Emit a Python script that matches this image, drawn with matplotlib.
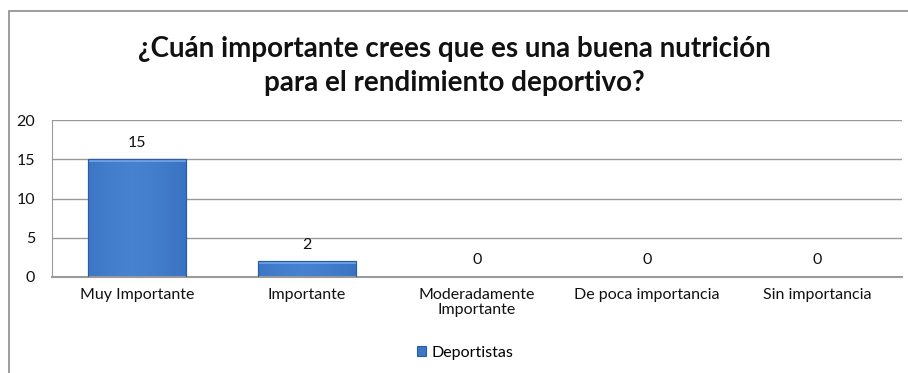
import matplotlib
matplotlib.use("Agg")
import matplotlib.pyplot as plt
import numpy as np
from matplotlib.patches import Rectangle

categories = ["Muy Importante", "Importante", "Moderadamente\nImportante",
              "De poca importancia", "Sin importancia"]
values = [15, 2, 0, 0, 0]
series_name = "Deportistas"
yticks = [0, 5, 10, 15, 20]
title = "¿Cuán importante crees que es una buena nutrición\npara el rendimiento deportivo?"

plt.rcParams["font.family"] = ["Lato", "DejaVu Sans"]

W, H = 908, 373
fig = plt.figure(figsize=(W / 100, H / 100), dpi=100)
fig.patch.set_facecolor("white")

# outer chart frame
fig.add_artist(Rectangle((9 / W, -0.05), 1.2, (H - 11) / H + 0.05,
                         transform=fig.transFigure, fill=False,
                         edgecolor="#8c8c8c", linewidth=1.2))

left, right = 52 / W, 902 / W
bottom, top = 1 - 277 / H, 1 - 120 / H
ax = fig.add_axes([left, bottom, right - left, top - bottom])
ax.set_xlim(-0.5, len(categories) - 0.5)
ax.set_ylim(0, 20)
ax.set_yticks(yticks)
ax.set_yticklabels([str(t) for t in yticks], fontsize=11.5, color="#111111")
ax.set_xticks(range(len(categories)))
ax.set_xticklabels(categories, fontsize=11.5, color="#111111", linespacing=1.05)
ax.tick_params(axis="x", length=0, pad=8)
ax.tick_params(axis="y", length=0, pad=12)
ax.grid(axis="y", color="#9a9a9a", linewidth=1)
ax.set_axisbelow(True)
for s in ["top", "right"]:
    ax.spines[s].set_visible(False)
ax.spines["left"].set_color("#9a9a9a")
ax.spines["bottom"].set_color("#9a9a9a")
ax.spines["bottom"].set_linewidth(1.5)

# horizontal shading for a bevelled look
grad = np.linspace(0, 1, 256)
shade = 1 - 0.55 * np.abs(grad - 0.45) ** 1.5 * 2
cmap = matplotlib.colors.LinearSegmentedColormap.from_list(
    "bar", ["#1f4d8c", "#3770c0", "#4682d0"])

width = 0.58
bars = ax.bar(range(len(categories)), values, width=width, color="#3b78c8",
              edgecolor="#2a5d9f", linewidth=0.8, label=series_name, zorder=2)
for b, v in zip(bars, values):
    if v <= 0:
        continue
    x0, w, h = b.get_x(), b.get_width(), b.get_height()
    img = np.tile(shade, (8, 1))
    im = ax.imshow(img, extent=(x0, x0 + w, 0, h), aspect="auto",
                   cmap=cmap, vmin=0, vmax=1, zorder=2.5, origin="lower")
    im.set_clip_path(b)
    # light bevel strip on top
    ax.add_patch(Rectangle((x0, h - 0.35), w, 0.35, facecolor="#6fa3e6",
                           edgecolor="none", zorder=2.6, alpha=0.9))
    ax.add_patch(Rectangle((x0, 0), w, h, facecolor="none",
                           edgecolor="#2a5d9f", linewidth=0.8, zorder=2.7))

for i, v in enumerate(values):
    ax.annotate(str(v), (i, v), xytext=(0, 7), textcoords="offset points",
                ha="center", va="bottom", fontsize=11.5, color="#111111")

fig.text(0.5, 1 - 66 / H, title, ha="center", va="center", fontsize=20,
         fontweight="bold", color="#111111", linespacing=1.4)

leg = fig.legend(handles=[bars[0]], labels=[series_name], loc="center",
                 bbox_to_anchor=(465 / W, 1 - 353 / H), frameon=False,
                 fontsize=11.5, handlelength=0.6, handleheight=0.6,
                 handletextpad=0.3)

fig.savefig("out.png", dpi=100, facecolor="white")
